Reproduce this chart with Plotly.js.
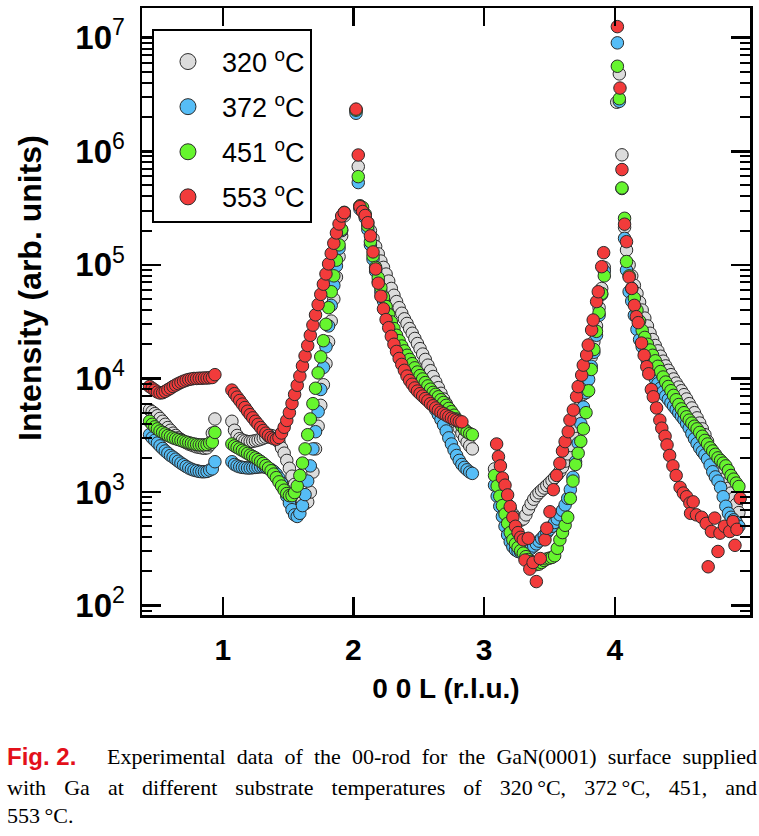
<!DOCTYPE html>
<html><head><meta charset="utf-8">
<script src="https://cdn.plot.ly/plotly-3.0.1.min.js"></script>
<style>body{margin:0;background:#fff}#plot{width:759px;height:836px}</style>
</head><body><div id="plot"></div>
<script>
// ---------- x grids (0 0 L, r.l.u.) ----------
const L_A  = [0.44,0.46,0.48,0.50,0.52,0.54,0.56,0.58,0.60,0.62,0.64,0.66,0.68,0.70,0.72,0.74,0.76,0.78,0.80,0.82,0.84,0.86,0.88,0.90,0.92,0.94];
const L_B  = [1.07,1.09,1.11,1.13,1.15,1.17,1.19,1.21,1.23,1.25,1.27,1.29,1.31,1.33,1.35,1.37,1.39,1.41,1.43,1.45,1.47,1.49,1.51,1.53,1.55,1.57,1.59,1.61,1.63,1.65,1.67,1.69,1.71,1.73,1.75,1.77,1.79,1.81,1.83,1.85,1.87,1.89,1.91,1.93];
const L_P2 = [2.02,2.037,2.05];
const L_D2 = [2.07,2.09,2.11,2.13,2.15,2.17,2.19,2.21,2.23,2.25,2.27,2.29,2.31,2.33,2.35,2.37,2.39,2.41,2.43,2.45,2.47,2.49,2.51,2.53,2.55,2.57,2.59,2.61,2.63,2.65,2.67,2.69,2.71,2.73,2.75,2.77,2.79,2.81,2.83,2.85,2.87,2.89,2.91];
const L_C  = [3.08,3.10,3.12,3.14,3.16,3.18,3.20,3.22,3.24,3.26,3.28,3.30,3.32,3.34,3.36,3.38,3.40,3.42,3.44,3.46,3.48,3.50,3.52,3.54,3.56,3.58,3.60,3.62,3.64,3.66,3.68,3.70,3.72,3.74,3.76,3.78,3.80,3.82,3.84,3.86,3.88,3.90,3.92];
const L_D4 = [4.09,4.11,4.13,4.15,4.17,4.19,4.21,4.23,4.25,4.27,4.29,4.31,4.33,4.35,4.37,4.39,4.41,4.43,4.45,4.47,4.49,4.51,4.53,4.55,4.57,4.59,4.61,4.63,4.65,4.67,4.69,4.71,4.73,4.75,4.77,4.79,4.81,4.83,4.85,4.87,4.89,4.91,4.93,4.95];
const L_P4      = [4.02,4.035,4.055,4.075];
const L_P4_320  = [4.015,4.035,4.055,4.075];
const L_P4_553  = [4.02,4.04,4.055,4.075];
const L_C_553  = [3.096,3.11,3.125,3.14,3.16,3.18,3.20,3.22,3.24,3.26,3.28,3.30,3.313,3.338,3.35,3.375,3.40,3.43,3.466,3.48,3.504,3.53,3.555,3.58,3.60,3.62,3.644,3.657,3.683,3.708,3.72,3.747,3.759,3.785,3.797,3.823,3.835,3.861,3.874,3.90,3.915];
const L_D4_553 = [4.09,4.11,4.13,4.15,4.165,4.18,4.205,4.225,4.245,4.26,4.28,4.295,4.32,4.345,4.36,4.385,4.40,4.42,4.445,4.47,4.50,4.525,4.55,4.575,4.58,4.60,4.625,4.665,4.70,4.715,4.74,4.765,4.79,4.805,4.84,4.88,4.905,4.92,4.935,4.96];

// ---------- 320 °C ----------
const I320_A  = [5300,5100,4900,4700,4450,4200,3950,3700,3500,3300,3150,3000,2900,2800,2720,2650,2600,2550,2500,2480,2450,2430,2450,2600,3300,4400];
const I320_B  = [4200,3500,3150,2950,2870,2820,2780,2780,2800,2830,2870,2920,2980,3040,3100,3150,3100,2950,2750,2450,2200,1900,1620,1380,1170,1020,900,830,790,820,1000,1500,2400,3800,5800,8800,13500,21000,32000,50000,78000,118000,180000,270000];
const I320_P2 = [2300000,733000,330000];
const I320_D2 = [300000,270000,235000,200000,170000,145000,125000,108000,95000,83000,72000,62000,54000,47500,42000,37500,33500,30500,27500,25000,22500,20300,18300,16400,14700,13100,11700,10400,9300,8300,7400,6600,6000,5450,4950,4500,4050,3650,3300,3000,2750,2550,2400];
const I320_C  = [1600,1350,1150,1000,880,780,700,640,600,575,565,580,630,710,790,865,930,985,1035,1085,1140,1200,1265,1340,1420,1520,1660,1870,2170,2570,3100,3800,4650,5800,7300,9300,11800,15500,21000,29000,42000,62000,95000];
const I320_P4 = [2700000,4800000,930000,214000];
const I320_D4 = [135000,100000,80000,66000,56000,47000,40000,34000,29000,25000,22000,19500,17500,15700,14200,12900,11800,10800,9900,9100,8400,7800,7200,6600,6000,5500,5000,4500,4050,3600,3200,2800,2450,2150,1900,1650,1450,1300,1180,1080,980,880,780,660];

// ---------- 372 °C ----------
const I372_A  = [3200,3000,2850,2700,2550,2420,2300,2200,2100,2030,1950,1870,1800,1740,1680,1630,1590,1560,1540,1520,1510,1510,1520,1560,1600,1850];
const I372_B  = [1850,1750,1700,1670,1650,1640,1630,1630,1640,1650,1660,1670,1670,1650,1620,1580,1520,1440,1330,1200,1060,920,800,700,630,610,650,760,950,1250,1700,2400,3400,5100,8000,12500,19000,29000,44000,66000,98000,140000,200000,285000];
const I372_P2 = [2160000,530000,310000];
const I372_D2 = [300000,260000,205000,150000,112000,88000,71000,58000,48000,40000,34000,29500,25500,22500,20000,18000,16200,14600,13200,12000,10900,9900,9000,8200,7500,6900,6300,5800,5300,4800,4350,3900,3450,3000,2650,2350,2100,1900,1750,1650,1570,1500,1460];
const I372_C  = [1150,920,750,610,500,420,365,330,310,300,295,295,300,310,320,335,350,370,390,415,440,470,500,540,580,630,690,770,880,1050,1350,1850,2700,4000,5600,7500,9800,12800,17000,24000,36000,55000,88000];
const I372_P4 = [9000000,2750000,470000,171000];
const I372_D4 = [90000,58000,48000,36000,27000,22000,19000,16300,14200,12300,10900,9900,9000,8200,7600,7000,6550,6100,5700,5350,4980,4650,4350,4000,3650,3270,2950,2680,2450,2270,2120,1950,1730,1510,1360,1250,1100,910,750,650,600,570,540,500];

// ---------- 451 °C ----------
const I451_A  = [4200,3950,3750,3600,3450,3350,3250,3150,3080,3000,2950,2900,2850,2800,2760,2720,2680,2650,2620,2600,2600,2600,2620,2700,2750,3350];
const I451_B  = [2650,2550,2470,2400,2330,2260,2190,2120,2060,2000,1930,1860,1790,1710,1630,1540,1440,1340,1230,1130,1040,970,930,930,990,1130,1400,1800,2400,3200,4400,6000,8200,11200,15500,21500,30000,42000,58000,80000,110000,150000,205000,290000];
const I451_P2 = [2300000,598000,330000];
const I451_D2 = [320000,280000,220000,160000,120000,95000,77000,63000,52000,43000,36500,31500,27500,24000,21500,19300,17500,16000,14700,13500,12400,11400,10600,9900,9200,8600,8050,7550,7250,6900,6500,6150,5800,5450,5100,4750,4400,4100,3800,3550,3380,3270,3200];
const I451_C  = [1400,1130,920,760,640,530,440,380,350,325,305,290,270,255,245,235,230,232,240,250,258,262,266,275,320,380,440,510,600,880,1250,1750,2200,2800,3600,5000,7800,12000,18000,26000,38000,56000,80000];
const I451_P4 = [5600000,2900000,475000,257000];
const I451_D4 = [107000,80000,62000,51000,40000,32000,26500,23000,20000,17800,16000,14300,12800,11500,10300,9300,8500,7800,7100,6500,5900,5400,5000,4600,4300,4050,3800,3600,3350,3100,2850,2650,2450,2300,2150,2000,1900,1800,1700,1550,1400,1300,1200,1120];

// ---------- 553 °C ----------
const I553_A  = [8500,8200,7900,7600,7450,7500,7700,7950,8200,8500,8750,9000,9250,9450,9650,9800,9900,10000,10000,10050,10050,10100,10100,10150,10200,10800];
const I553_B  = [7900,7350,6850,6400,5950,5550,5150,4800,4500,4200,3950,3700,3480,3300,3150,3020,2950,2920,3020,3310,3720,4270,5010,6030,7240,8710,10500,12900,15800,19500,24000,29500,36300,44700,55000,67600,83200,102000,126000,155000,191000,229000,269000,288000];
const I553_P2 = [2350000,927000,325000];
const I553_D2 = [295000,272000,235000,180000,130000,92000,69000,53000,41000,33000,28000,23500,20000,17300,15000,13300,11800,10500,9600,8900,8250,7750,7350,7000,6650,6350,6000,5750,5500,5250,5050,4900,4750,4600,4480,4370,4280,4200,4150];
const I553_C  = [2650,2050,1700,1330,1150,944,745,600,500,440,400,380,252,392,210,240,163,260,380,480,671,1050,1400,1790,2300,2780,3400,4310,5280,6930,8470,10700,13100,16100,19700,26700,32700,47500,58000,96400,128000];
const I553_P4 = [12500000,3600000,690000,228000];
const I553_D4 = [160000,78000,62000,44000,35000,31000,20500,16000,12700,11000,8000,6900,5500,4300,3650,3100,2600,2100,1700,1400,1100,980,910,800,650,820,630,600,530,220,450,590,300,435,500,450,550,340,470,880];

const seriesNames = ['320 <sup>o</sup>C','372 <sup>o</sup>C','451 <sup>o</sup>C','553 <sup>o</sup>C'];
const seriesColors = ['#dcdcdc','#56bdf6','#66f52e','#f23b3b'];
const xTickVals = [1,2,3,4];
const xTickText = ['<b>1</b>','<b>2</b>','<b>3</b>','<b>4</b>'];
const yTickVals = [1e2,1e3,1e4,1e5,1e6,1e7];
const yTickText = ['<b>10</b><sup>2</sup>','<b>10</b><sup>3</sup>','<b>10</b><sup>4</sup>','<b>10</b><sup>5</sup>','<b>10</b><sup>6</sup>','<b>10</b><sup>7</sup>'];

const X = [
  [].concat(L_A, L_B, L_P2, L_D2, L_C, L_P4_320, L_D4),
  [].concat(L_A, L_B, L_P2, L_D2, L_C, L_P4, L_D4),
  [].concat(L_A, L_B, L_P2, L_D2, L_C, L_P4, L_D4),
  [].concat(L_A, L_B, L_P2, L_D2.slice(0, I553_D2.length), L_C_553, L_P4_553, L_D4_553)
];
const Y = [
  [].concat(I320_A, I320_B, I320_P2, I320_D2, I320_C, I320_P4, I320_D4),
  [].concat(I372_A, I372_B, I372_P2, I372_D2, I372_C, I372_P4, I372_D4),
  [].concat(I451_A, I451_B, I451_P2, I451_D2, I451_C, I451_P4, I451_D4),
  [].concat(I553_A, I553_B, I553_P2, I553_D2, I553_C, I553_P4, I553_D4)
];

const SANS = 'Liberation Sans, Arial, Helvetica, sans-serif';
const SERIF = 'Liberation Serif, Times New Roman, serif';
const dataTraces = X.map((x, i) => ({
  type: 'scatter', mode: 'markers', x: x, y: Y[i],
  name: seriesNames[i], legendgroup: 'g' + i, showlegend: false,
  marker: {size: 12.5, color: seriesColors[i], line: {color: '#2b2b2b', width: 1}},
  hoverinfo: 'skip'
}));
// legend swatches (no data, bigger symbol like the reference key)
const keyTraces = seriesNames.map((n, i) => ({
  type: 'scatter', mode: 'markers', x: [null], y: [null],
  name: n, legendgroup: 'g' + i, showlegend: true,
  marker: {size: 16, color: seriesColors[i], line: {color: '#2b2b2b', width: 1}},
  hoverinfo: 'skip'
}));

const layout = {
  width: 759, height: 836,
  margin: {l: 142, r: 9, t: 8, b: 221, pad: 0},
  paper_bgcolor: '#ffffff', plot_bgcolor: '#ffffff',
  showlegend: true,
  legend: {
    x: 0.0164, y: 0.9654, xanchor: 'left', yanchor: 'top',
    bgcolor: '#ffffff', bordercolor: '#000000', borderwidth: 2,
    font: {family: SANS, size: 27, color: '#000'},
    title: {text: ' ', font: {family: SANS, size: 5, color: '#fff'}},
    itemwidth: 58, tracegroupgap: 7, itemsizing: 'trace', traceorder: 'grouped'
  },
  xaxis: {
    type: 'linear', range: [0.382, 5.035],
    showline: true, linecolor: '#000', linewidth: 2.5, mirror: 'allticks',
    ticks: 'inside', ticklen: 18, tickwidth: 2.5, tickcolor: '#000',
    tickmode: 'array', tickvals: xTickVals, ticktext: xTickText,
    tickfont: {family: SANS, size: 30, color: '#000'}, ticklabelstandoff: 6,
    showgrid: false, zeroline: false,
    title: {text: '<b>0 0 L (r.l.u.)</b>', font: {family: SANS, size: 28, color: '#000'}, standoff: 14}
  },
  yaxis: {
    type: 'log', range: [1.918, 7.261],
    showline: true, linecolor: '#000', linewidth: 2.5, mirror: 'allticks',
    ticks: 'inside', ticklen: 19, tickwidth: 2.5, tickcolor: '#000',
    tickmode: 'array', tickvals: yTickVals, ticktext: yTickText,
    tickfont: {family: SANS, size: 33, color: '#000'}, ticklabelstandoff: 8,
    minor: {tickmode: 'linear', dtick: 'D1', ticks: 'inside', ticklen: 10, tickwidth: 2, tickcolor: '#000', showgrid: false},
    showgrid: false, zeroline: false
  },
  annotations: [
    {xref: 'paper', yref: 'paper', x: -0.2253, y: -0.2339, xanchor: 'left', yanchor: 'middle', showarrow: false,
     text: '<b>Fig. 2.</b>', font: {family: SANS, size: 24, color: '#e3101a'}},
    {xref: 'paper', yref: 'paper', x: -0.0609, y: -0.2339, xanchor: 'left', yanchor: 'middle', showarrow: false,
     text: 'Experimental data of the 00-rod for the GaN(0001) surface supplied', font: {family: SERIF, size: 22, color: '#000'}},
    {xref: 'paper', yref: 'paper', x: -0.2253, y: -0.2834, xanchor: 'left', yanchor: 'middle', showarrow: false,
     text: 'with Ga at different substrate temperatures of 320\u2009°C, 372\u2009°C, 451, and', font: {family: SERIF, size: 22, color: '#000'}},
    {xref: 'paper', yref: 'paper', x: -0.2253, y: -0.3295, xanchor: 'left', yanchor: 'middle', showarrow: false,
     text: '553\u2009°C.', font: {family: SERIF, size: 22, color: '#000'}},
    {xref: 'paper', yref: 'paper', x: -0.1842, y: 0.5387, xanchor: 'center', yanchor: 'middle', showarrow: false, textangle: -90,
     text: '<b>Intensity (arb. units)</b>', font: {family: SANS, size: 32, color: '#000'}}
  ]
};

function justify(gd, idx, target) {
  const t = gd.querySelector('g.annotation[data-index="' + idx + '"] text.annotation-text');
  if (!t) return;
  const spaces = (t.textContent.match(/ /g) || []).length;
  const b0 = t.getBBox();
  if (spaces > 0 && b0.width < target) {
    t.style.wordSpacing = ((target - b0.width) / spaces) + 'px';
    const b1 = t.getBBox();
    const dx = b0.x - b1.x;
    t.setAttribute('transform', ((t.getAttribute('transform') || '') + ' translate(' + dx + ',0)').trim());
  }
}

Plotly.newPlot('plot', dataTraces.concat(keyTraces), layout, {staticPlot: true, displayModeBar: false}).then(function (gd) {
  justify(gd, 1, 650);
  justify(gd, 2, 750);
});
</script>
</body></html>
